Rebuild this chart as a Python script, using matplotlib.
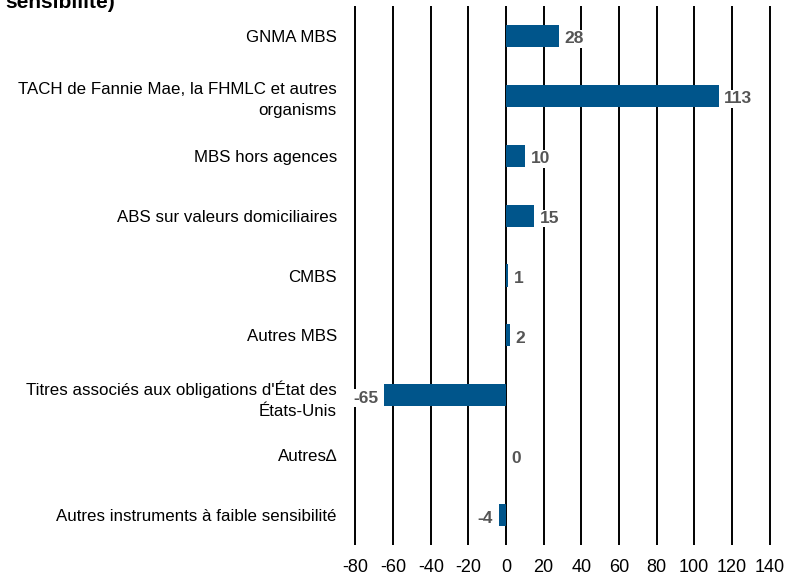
import matplotlib
matplotlib.use("Agg")
import matplotlib.pyplot as plt

# chart data
categories = [
    "GNMA MBS",
    "TACH de Fannie Mae, la FHMLC et autres\norganisms",
    "MBS hors agences",
    "ABS sur valeurs domiciliaires",
    "CMBS",
    "Autres MBS",
    "Titres associés aux obligations d'État des\nÉtats-Unis",
    "Autres\u2206",
    "Autres instruments à faible sensibilité",
]
values = [28, 113, 10, 15, 1, 2, -65, 0, -4]
xticks = [-80, -60, -40, -20, 0, 20, 40, 60, 80, 100, 120, 140]

plt.rcParams["font.family"] = ["Liberation Sans", "DejaVu Sans"]

fig = plt.figure(figsize=(8.01, 5.85), dpi=100)
ax = fig.add_axes([353.6 / 801, 40 / 585, 417.8 / 801, 539 / 585])

ypos = list(range(len(categories)))
ax.barh(ypos, values, height=0.37, color="#00558b", zorder=3)

for x in xticks:
    ax.axvline(x, color="black", lw=1.4, zorder=1)

for y, v in zip(ypos, values):
    if v < 0:
        ax.text(v - 3, y + 0.05, str(v), ha="right", va="center", fontsize=12.5,
                fontweight="bold", color="#555555", zorder=4,
                bbox=dict(facecolor="white", edgecolor="none", pad=1))
    else:
        ax.text(v + 3, y + 0.05, str(v), ha="left", va="center", fontsize=12.5,
                fontweight="bold", color="#555555", zorder=4,
                bbox=dict(facecolor="white", edgecolor="none", pad=1))

ax.set_xlim(-81, 141)
ax.set_ylim(len(categories) - 0.5, -0.5)
ax.set_xticks(xticks)
ax.set_xticklabels([str(t) for t in xticks], fontsize=13)
ax.set_yticks(ypos)
ax.set_yticklabels(categories, fontsize=12.2, ha="right", linespacing=1.5)
ax.tick_params(axis="both", length=0)
ax.tick_params(axis="y", pad=12)
ax.tick_params(axis="x", pad=10)
for s in ax.spines.values():
    s.set_visible(False)

fig.text(5 / 801, 1 - 8 / 585, "sensibilité)", fontsize=15, fontweight="bold",
         ha="left", va="baseline")

fig.savefig("out.png", dpi=100)
